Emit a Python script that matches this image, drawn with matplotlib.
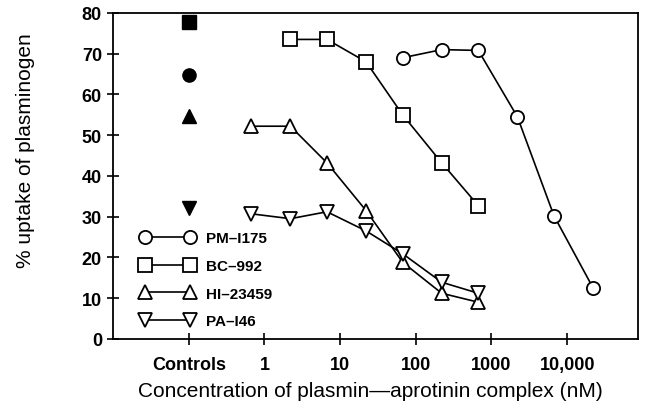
import matplotlib
matplotlib.use("Agg")
import matplotlib.pyplot as plt

plt.rcParams['font.family'] = ['Liberation Sans', 'DejaVu Sans']

# Concentrations (nM); Controls drawn at 0.1 on log axis
conc_pm = [67, 220, 670, 2200, 6700, 22000]
pct_pm = [69.0, 71.0, 70.8, 54.5, 30.2, 12.5]
conc_bc = [2.2, 6.7, 22, 67, 220, 670]
pct_bc = [73.5, 73.5, 68.0, 55.0, 43.2, 32.7]
conc_hi = [0.67, 2.2, 6.7, 22, 67, 220, 670]
pct_hi = [52.2, 52.2, 43.2, 31.5, 18.8, 11.2, 9.0]
conc_pa = [0.67, 2.2, 6.7, 22, 67, 220, 670]
pct_pa = [30.7, 29.5, 31.2, 26.5, 20.9, 13.9, 11.2]
controls_x = 0.1
controls_pct = [77.8, 64.8, 54.6, 32.2]  # square, circle, up-tri, down-tri

series_labels = ["PM\u2013I175", "BC\u2013992", "HI\u201323459", "PA\u2013I46"]
markers = ["o", "s", "^", "v"]
xtick_vals = [0.1, 1, 10, 100, 1000, 10000]
xtick_labels = ["Controls", "1", "10", "100", "1000", "10,000"]
ytick_vals = [0, 10, 20, 30, 40, 50, 60, 70, 80]

fig = plt.figure(figsize=(6.5, 4.1), dpi=100)
ax = fig.add_axes([0.174, 0.171, 0.808, 0.795])

data = [(conc_pm, pct_pm), (conc_bc, pct_bc), (conc_hi, pct_hi), (conc_pa, pct_pa)]
ms = [9.5, 9.5, 10, 10]
for (xs, ys), m, lab, s in zip(data, markers, series_labels, ms):
    ax.plot(xs, ys, color='black', lw=1.2, marker=m, ms=s, mfc='white',
            mec='black', mew=1.3, label=lab, zorder=3)

ctrl_markers = ["s", "o", "^", "v"]
for y, m in zip(controls_pct, ctrl_markers):
    ax.plot([controls_x], [y], marker=m, ms=9.5, color='black', ls='none',
            clip_on=False, zorder=4)

ax.set_xscale('log')
ax.set_xlim(0.01, 10 ** 4.94)
ax.set_ylim(0, 80)
ax.set_xticks(xtick_vals)
ax.set_xticklabels(xtick_labels)
ax.minorticks_off()
ax.set_yticks(ytick_vals)
ax.tick_params(direction='inout', length=9, width=1.2, labelsize=13,
               top=False, right=False)
ax.tick_params(axis='x', pad=8)
for lbl in ax.get_xticklabels() + ax.get_yticklabels():
    lbl.set_fontweight('bold')
for sp in ax.spines.values():
    sp.set_linewidth(1.3)

ax.set_xlabel("Concentration of plasmin\u2014aprotinin complex (nM)",
              fontsize=15)
ax.xaxis.set_label_coords(0.49, -0.13)
ax.set_ylabel("% uptake of plasminogen", fontsize=15)
ax.yaxis.set_label_coords(-0.149, 0.58)

leg = ax.legend(loc='lower left', bbox_to_anchor=(0.025, -0.01), frameon=False,
                numpoints=2, handlelength=3.6,
                prop={'weight': 'bold', 'size': 11}, labelspacing=0.9,
                handletextpad=0.7)

fig.savefig("out.png", dpi=100)
